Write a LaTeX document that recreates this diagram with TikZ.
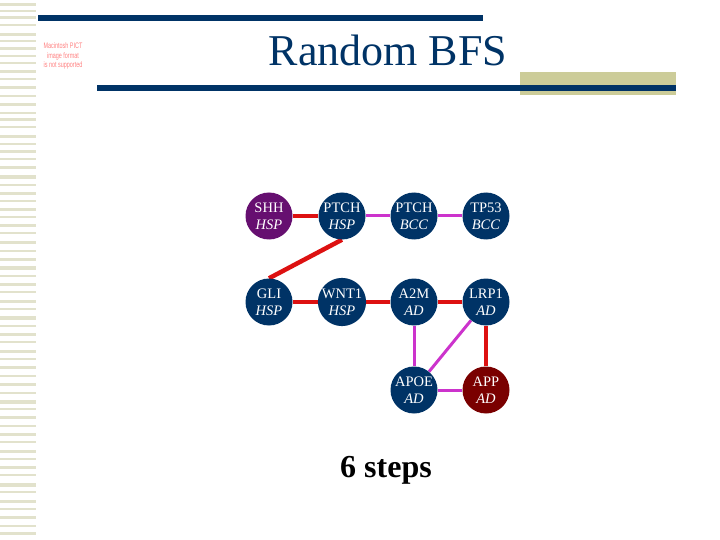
\documentclass[tikz,border=0pt]{standalone}
\usepackage{fontspec}
\setmainfont{Liberation Serif}
\newfontfamily\pictfont{Liberation Sans}
\usepackage{tikz}
\usetikzlibrary{positioning,backgrounds}

\definecolor{navy}{HTML}{003366}
\definecolor{plum}{HTML}{660F70}
\definecolor{maroon}{HTML}{7A0000}
\definecolor{olive}{HTML}{CCCC99}
\definecolor{stripe}{HTML}{E2E2CC}
\definecolor{hit}{HTML}{DD1111}
\definecolor{near}{HTML}{CC33CC}

\begin{document}
\begin{tikzpicture}[
    x=1pt, y=-1pt,
    gene/.style={circle, fill=navy, minimum size=47pt, inner sep=0pt, align=center,
                 text=white, font=\fontsize{14.5}{17}\selectfont},
    src/.style={gene, fill=plum},
    dst/.style={gene, fill=maroon},
    strong/.style={hit, line width=4.5pt},
    weak/.style={near, line width=3pt},
  ]
    \useasboundingbox (0,0) rectangle (720,540);

    % left stripes
    \foreach \y/\w in {3/3,10/2,16/3,24/2,33/3,40/2,47/3,55/2,62/2,70/3,
                       78/2,86/3,95/2,103/3,112/2,118/3,126/2,135/3,143/2,150/3,
                       158/2,166/3,175/4,184/2,192/3,200/2,208/3,216/2,224/3,232/2,
                       241/3,250/2,258/3,266/4,275/2,283/3,291/2,300/3,308/2,316/4,
                       325/2,333/3,341/2,350/3,358/2,366/3,375/2,383/3,392/2,400/4,
                       408/2,416/3,425/2,433/3,441/2,450/3,458/2,466/3,474/2,483/4,
                       491/2,500/3,508/2,516/3,525/2,532/3}
      \fill[stripe] (0,\y) rectangle (36,\y+\w);

    % header
    \fill[olive] (520,72) rectangle (676,95);
    \fill[navy] (38,15) rectangle (483,21);
    \fill[navy] (97,85) rectangle (676,91);
    \node[text=navy, font=\fontsize{44}{44}\selectfont] (title) at (388,50) {Random BFS};
    \node[text=red!50, font=\pictfont\fontsize{8}{9.5}\selectfont, align=center,
          xscale=0.68, transform shape] (pict) at (63,56)
      {Macintosh PICT\\image format\\is not supported};

    % genes
    \node[src] (shh)   at (269,216) {SHH\\\textit{HSP}};
    \node[gene] (ptchh) at (342,216) {PTCH\\\textit{HSP}};
    \node[gene] (ptchb) at (414,216) {PTCH\\\textit{BCC}};
    \node[gene] (tp)    at (486,216) {TP53\\\textit{BCC}};
    \node[gene] (gli)   at (269,302) {GLI\\\textit{HSP}};
    \node[gene] (wnt)   at (342,302) {WNT1\\\textit{HSP}};
    \node[gene] (atm)   at (414,302) {A2M\\\textit{AD}};
    \node[gene] (lrp)   at (486,302) {LRP1\\\textit{AD}};
    \node[gene] (apoe)  at (414,390) {APOE\\\textit{AD}};
    \node[dst] (app)   at (486,390) {APP\\\textit{AD}};

    % search path and side links
    \begin{scope}[on background layer]
      \foreach \a/\b in {shh/ptchh, gli/wnt, wnt/atm, atm/lrp, lrp/app}
        \draw[strong] (\a) -- (\b);
      \draw[strong] (ptchh.south) -- (gli.north);
      \foreach \a/\b in {ptchh/ptchb, ptchb/tp, atm/apoe, apoe/lrp, apoe/app}
        \draw[weak] (\a) -- (\b);
    \end{scope}

    \node[font=\bfseries\fontsize{32}{32}\selectfont] (steps) at (386,470) {6 steps};
  \end{tikzpicture}
\end{document}
